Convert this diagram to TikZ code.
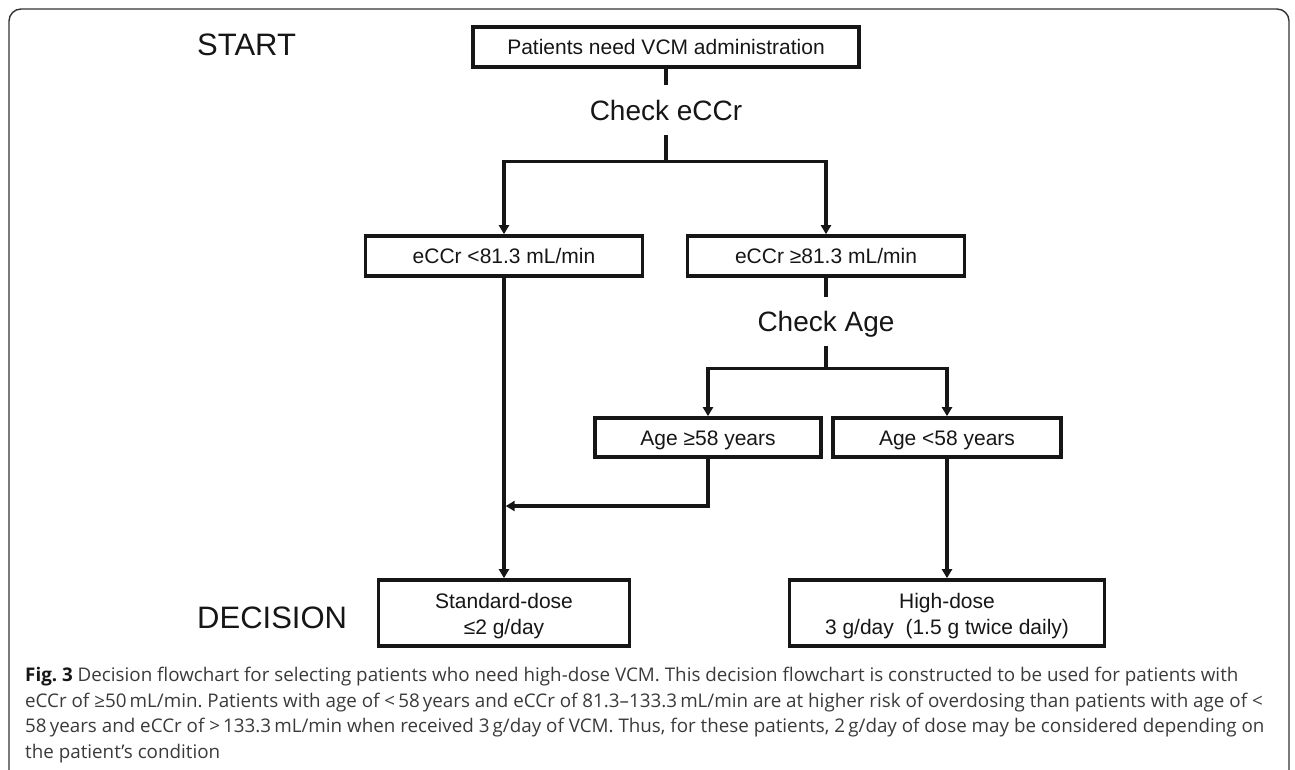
\documentclass[tikz,border=0pt]{standalone}
\usepackage{fontspec}
\setmainfont{Liberation Sans}
\newfontfamily\capfont{Open Sans}
\usetikzlibrary{arrows.meta}
\frenchspacing
\definecolor{ink}{HTML}{161616}
\definecolor{capgray}{HTML}{3A3A3A}
\definecolor{framegray}{HTML}{333333}
\tikzset{
 boxnode/.style={draw=ink, line width=3.7pt, inner sep=0pt, text height=15pt, text depth=0pt, font=\fontsize{21}{25}\selectfont, text=ink},
 boxtext/.style={anchor=base, inner sep=0pt, font=\fontsize{21}{25}\selectfont, text=ink},
 checknode/.style={inner xsep=2pt, text height=20pt, text depth=0pt, font=\fontsize{28}{32}\selectfont, text=ink},
 bigword/.style={anchor=base west, inner sep=0pt, font=\fontsize{31}{35}\selectfont, text=ink},
 conn/.style={draw=ink, line width=3.3pt},
 arr/.style={conn, -{Triangle[length=9pt,width=10pt]}},
 capline/.style={anchor=base west, inner sep=0pt, font=\capfont\fontsize{18.8}{22}\selectfont, text=capgray},
}
\begin{document}
\begin{tikzpicture}[x=1pt,y=-1pt]
\useasboundingbox (0,0) rectangle (1295,769);
\draw[framegray, line width=1.4pt, rounded corners=12pt] (9,780) -- (9,9) -- (1289,9) -- (1289,780);

\node[bigword] (start) at (197,55) {START};
\node[bigword] (decision) at (197,628) {DECISION};

\node[boxnode, minimum width=386pt, minimum height=40pt] (top) at (666,47) {Patients need VCM administration};
\node[checknode, inner ysep=15pt] (ce) at (666,110) {Check eCCr};
\node[boxnode, minimum width=277pt, minimum height=40pt] (lo) at (504,256) {eCCr <81.3 mL/min};
\node[boxnode, minimum width=277pt, minimum height=40pt] (hi) at (826,256) {eCCr ≥81.3 mL/min};
\node[checknode, inner ysep=14.5pt] (ca) at (826,321.5) {Check Age};
\node[boxnode, minimum width=226pt, minimum height=39pt] (a1) at (708,437.5) {Age ≥58 years};
\node[boxnode, minimum width=228pt, minimum height=39pt] (a2) at (947,437.5) {Age <58 years};
\node[boxnode, minimum width=251pt, minimum height=66pt] (sd) at (504,613) {};
\node[boxnode, minimum width=315pt, minimum height=66pt] (hd) at (947,613) {};
\node[boxtext] (sd1) at (504,608) {Standard-dose};
\node[boxtext] (sd2) at (504,634) {≤2 g/day};
\node[boxtext] (hd1) at (947,608) {High-dose};
\node[boxtext] (hd2) at (947,634) {3 g/day \ (1.5 g twice daily)};

\draw[conn] (top.south) -- (ce.north);
\draw[arr] (ce.south) -- ++(0,26) -| (lo.north);
\draw[arr] (ce.south) -- ++(0,26) -| (hi.north);
\draw[conn] (hi.south) -- (ca.north);
\draw[arr] (ca.south) -- ++(0,22) -| (a1.north);
\draw[arr] (ca.south) -- ++(0,22) -| (a2.north);
\draw[arr] (lo.south) -- (sd.north);
\coordinate (mrg) at (505.7,506);
\draw[arr] (a1.south) |- (mrg);
\draw[arr] (a2.south) -- (hd.north);

\node[capline] (cap1) at (25,681) {{\color{ink}\bfseries Fig.~3} Decision flowchart for selecting patients who need high-dose VCM. This decision flowchart is constructed to be used for patients with};
\node[capline] (cap2) at (25,707) {eCCr of ≥50\,mL/min. Patients with age of <\,58\,years and eCCr of 81.3–133.3\,mL/min are at higher risk of overdosing than patients with age of <};
\node[capline] (cap3) at (25,732.5) {58\,years and eCCr of >\,133.3\,mL/min when received 3\,g/day of VCM. Thus, for these patients, 2\,g/day of dose may be considered depending on};
\node[capline] (cap4) at (25,758) {the patient’s condition};
\end{tikzpicture}
\end{document}
